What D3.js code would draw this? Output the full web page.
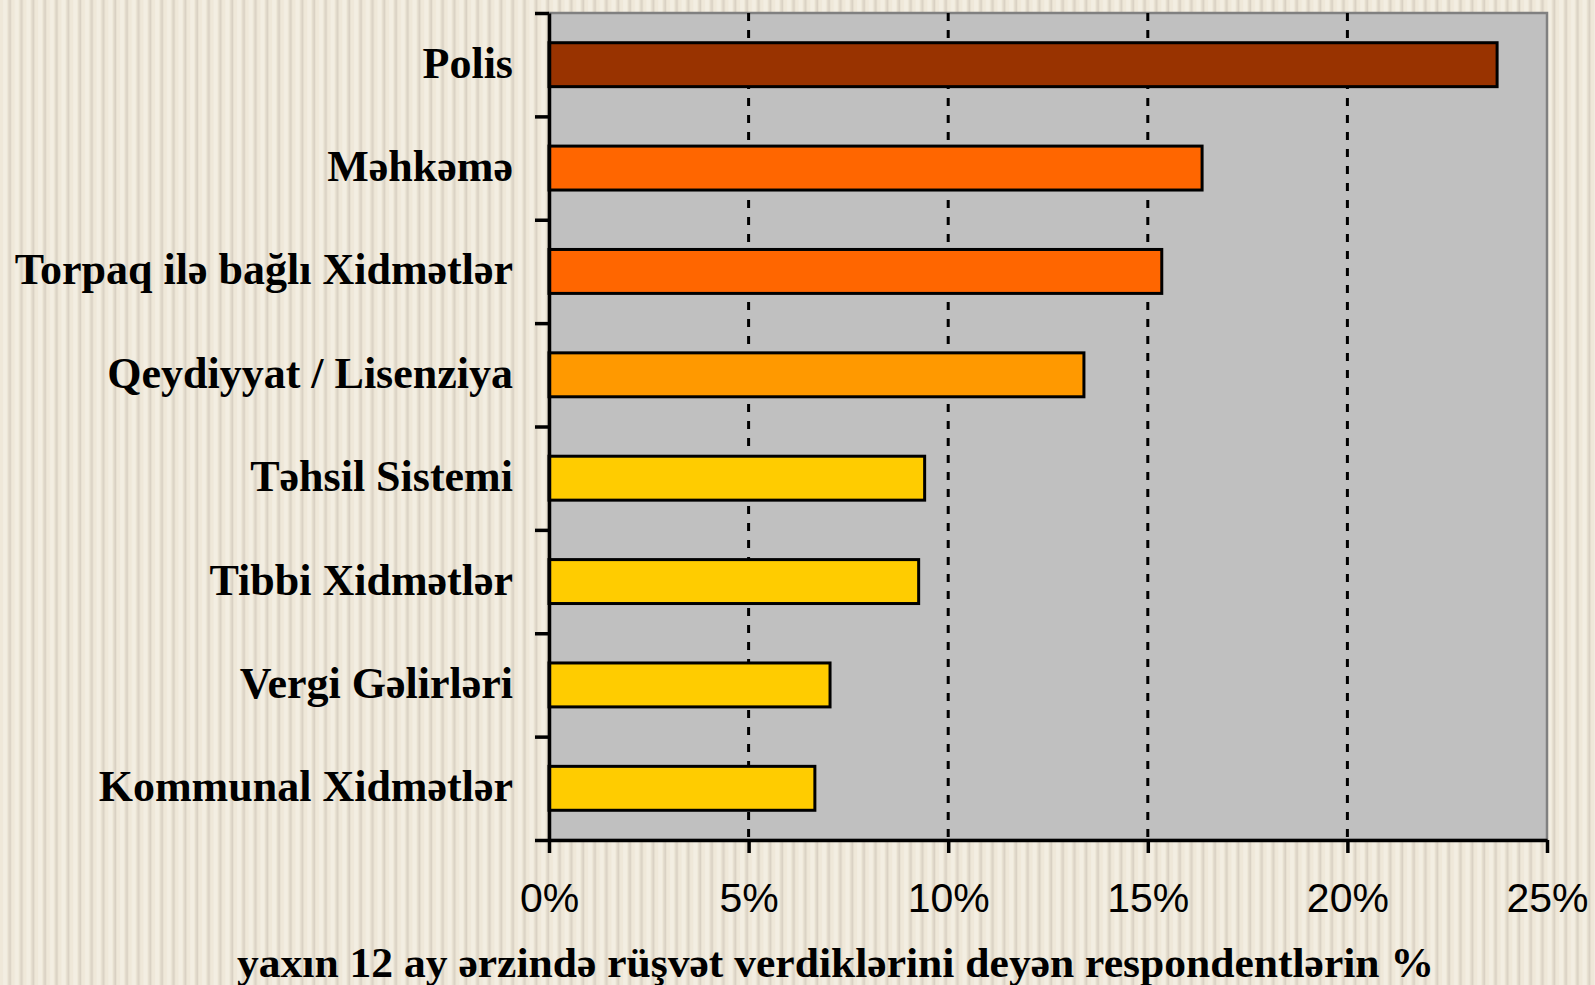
<!DOCTYPE html>
<html>
<head>
<meta charset="utf-8">
<script src="https://cdn.jsdelivr.net/npm/d3@7"></script>
<style>
  body { margin: 0; padding: 0; overflow: hidden; }
  svg { display: block; }
</style>
</head>
<body>
<svg></svg>
<script>
const categories = [
    "Polis",
    "Məhkəmə",
    "Torpaq ilə bağlı Xidmətlər",
    "Qeydiyyat / Lisenziya",
    "Təhsil Sistemi",
    "Tibbi Xidmətlər",
    "Vergi Gəlirləri",
    "Kommunal Xidmətlər"
];
const values = [0.2375, 0.1636, 0.1535, 0.134, 0.0941, 0.0926, 0.0704, 0.0666];
const barColors = ["#993300", "#FF6600", "#FF6600", "#FF9900", "#FFCC00", "#FFCC00", "#FFCC00", "#FFCC00"];
const tickValues = [0, 0.05, 0.10, 0.15, 0.20, 0.25];
const axisTitle = "yaxın 12 ay ərzində rüşvət verdiklərini deyən respondentlərin %";

const width = 1595, height = 985;
const margin = { top: 13, right: 48, bottom: 145, left: 549 };

const svg = d3.select("svg")
    .attr("width", width)
    .attr("height", height);

// striped paper background
const defs = svg.append("defs");
const pat = defs.append("pattern")
    .attr("id", "stripes")
    .attr("patternUnits", "userSpaceOnUse")
    .attr("width", 11.7)
    .attr("height", 10);
pat.append("rect").attr("width", 11.7).attr("height", 10).attr("fill", "#EFE8D9");
pat.append("rect").attr("x", 3).attr("width", 4).attr("height", 10).attr("fill", "#F3EEE2");
pat.append("rect").attr("x", 9).attr("width", 2).attr("height", 10).attr("fill", "#D9D1C3");
pat.append("rect").attr("x", 8).attr("width", 1).attr("height", 10).attr("fill", "#E3DCCD");

svg.append("rect")
    .attr("width", width)
    .attr("height", height)
    .attr("fill", "url(#stripes)");

const x = d3.scaleLinear()
    .domain([0, 0.25])
    .range([margin.left, width - margin.right]);

const y = d3.scaleBand()
    .domain(categories)
    .range([margin.top, height - margin.bottom])
    .paddingInner(0.575)
    .paddingOuter(0.2875);

const yEdge = d3.scaleLinear()
    .domain([0, categories.length])
    .range([margin.top, height - margin.bottom]);

// plot area
svg.append("rect")
    .attr("x", x(0))
    .attr("y", margin.top)
    .attr("width", x(0.25) - x(0))
    .attr("height", height - margin.bottom - margin.top)
    .attr("fill", "#C0C0C0")
    .attr("stroke", "#808080")
    .attr("stroke-width", 2.5);

// dashed gridlines
svg.append("g")
    .selectAll("line")
    .data(tickValues.slice(1, -1))
    .enter()
    .append("line")
    .attr("x1", d => x(d))
    .attr("x2", d => x(d))
    .attr("y1", margin.top)
    .attr("y2", height - margin.bottom)
    .attr("stroke", "#000")
    .attr("stroke-width", 3)
    .attr("stroke-dasharray", "8,9");

// bars
svg.selectAll(".bar")
    .data(categories)
    .enter()
    .append("rect")
    .attr("class", "bar")
    .attr("x", x(0))
    .attr("y", d => y(d))
    .attr("width", (d, i) => x(values[i]) - x(0))
    .attr("height", y.bandwidth())
    .attr("fill", (d, i) => barColors[i])
    .attr("stroke", "#000")
    .attr("stroke-width", 3);

// left axis (ticks between categories)
const yAxis = svg.append("g")
    .attr("transform", `translate(${x(0)},0)`)
    .call(d3.axisLeft(yEdge)
        .tickValues(d3.range(categories.length + 1))
        .tickSize(14)
        .tickSizeOuter(0)
        .tickFormat(""));
yAxis.selectAll("line, path").attr("stroke", "#000").attr("stroke-width", 3.5);

// category labels
svg.selectAll(".cat")
    .data(categories)
    .enter()
    .append("text")
    .attr("class", "cat")
    .attr("x", 513)
    .attr("y", d => y(d) + y.bandwidth() / 2 + 13)
    .style("text-anchor", "end")
    .style("font-family", "'Liberation Serif', 'Times New Roman', serif")
    .style("font-weight", "bold")
    .style("font-size", "44px")
    .style("fill", "#000")
    .text(d => d);

// bottom axis
const xAxis = svg.append("g")
    .attr("transform", `translate(0,${height - margin.bottom})`)
    .call(d3.axisBottom(x)
        .tickValues(tickValues)
        .tickSize(13)
        .tickSizeOuter(0)
        .tickPadding(30)
        .tickFormat(d => Math.round(d * 100) + "%"));
xAxis.selectAll("line, path").attr("stroke", "#000").attr("stroke-width", 3.5);
xAxis.selectAll("text")
    .style("font-family", "'Liberation Sans', Arial, sans-serif")
    .style("font-size", "41px")
    .style("fill", "#000");

// axis title
svg.append("text")
    .attr("x", 237)
    .attr("y", 977)
    .attr("textLength", 1197)
    .attr("lengthAdjust", "spacingAndGlyphs")
    .style("font-family", "'Liberation Serif', 'Times New Roman', serif")
    .style("font-weight", "bold")
    .style("font-size", "42px")
    .style("fill", "#000")
    .text(axisTitle);
</script>
</body>
</html>
